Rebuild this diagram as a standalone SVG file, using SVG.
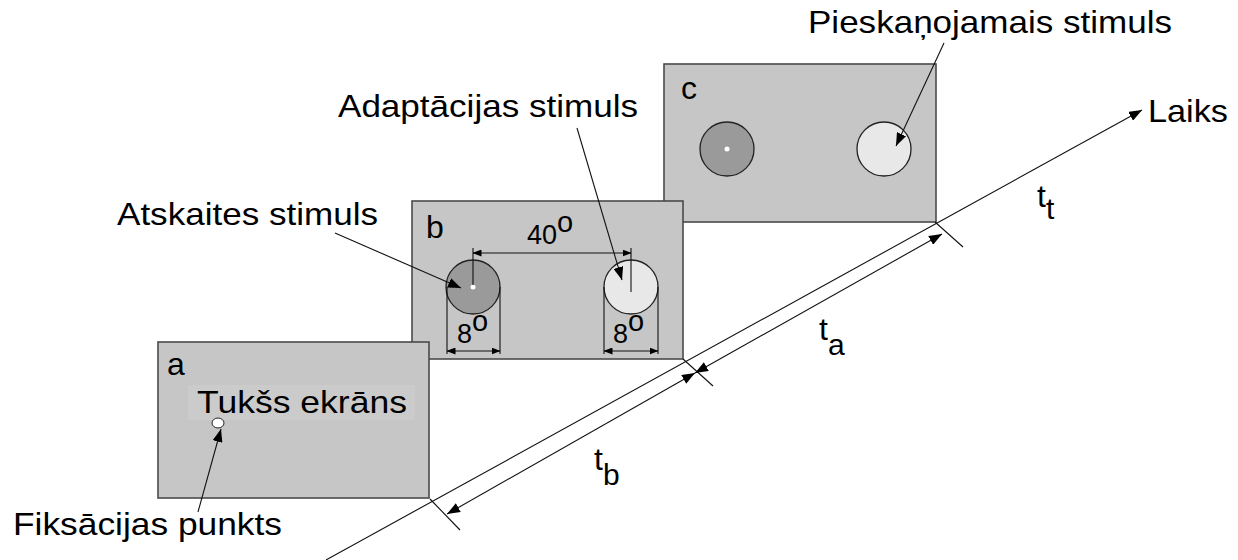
<svg xmlns="http://www.w3.org/2000/svg" width="1238" height="560" viewBox="0 0 1238 560">
<defs>
<marker id="ah" markerUnits="userSpaceOnUse" markerWidth="14" markerHeight="10" refX="13" refY="5" orient="auto-start-reverse"><path d="M0,0 L13,5 L0,10 Z" fill="#000"/></marker>
<marker id="ahs" markerUnits="userSpaceOnUse" markerWidth="9" markerHeight="7" refX="8.5" refY="3.5" orient="auto-start-reverse"><path d="M0,0 L9,3.5 L0,7 Z" fill="#000"/></marker>
<style>
.box{fill:#c6c6c6;stroke:#4a4a4a;stroke-width:1.6}
.t{font-family:"Liberation Sans",Arial,sans-serif;font-size:32px;fill:#000}
.s{font-family:"Liberation Sans",Arial,sans-serif;font-size:27px;fill:#000}
.ln{stroke:#111;stroke-width:1.1;fill:none}
.dark{fill:#9a9a9a;stroke:#222;stroke-width:1.3}
.light{fill:#e8e8e8;stroke:#222;stroke-width:1.3}
</style>
</defs>
<rect width="1238" height="560" fill="#fff"/>

<g id="box-c">
<rect class="box" x="664" y="64" width="272" height="158"/>
<text class="t" x="681" y="99">c</text>
<circle class="dark" cx="727" cy="149" r="27"/>
<circle cx="727" cy="149" r="2.5" fill="#fff"/>
<circle class="light" cx="884" cy="149" r="27"/>
</g>

<g id="box-b">
<rect class="box" x="412" y="201" width="271" height="158"/>
<text class="t" x="426" y="238">b</text>
<circle class="dark" cx="473" cy="287" r="27"/>
<circle cx="473" cy="287" r="2.5" fill="#fff"/>
<circle class="light" cx="631" cy="287" r="27"/>
<g class="ln">
<line x1="473" y1="248" x2="473" y2="285"/>
<line x1="631" y1="248" x2="631" y2="292"/>
<line x1="473" y1="253" x2="631" y2="253" marker-start="url(#ahs)" marker-end="url(#ahs)"/>
<line x1="447" y1="287" x2="447" y2="354"/>
<line x1="500" y1="287" x2="500" y2="354"/>
<line x1="604" y1="287" x2="604" y2="354"/>
<line x1="658" y1="287" x2="658" y2="354"/>
<line x1="447" y1="351" x2="500" y2="351" marker-start="url(#ahs)" marker-end="url(#ahs)"/>
<line x1="604" y1="351" x2="658" y2="351" marker-start="url(#ahs)" marker-end="url(#ahs)"/>
</g>
<text class="s" x="527" y="244">40<tspan dy="-12" font-size="29">o</tspan></text>
<text class="s" x="457" y="343">8<tspan dy="-12" font-size="29">o</tspan></text>
<text class="s" x="613" y="343">8<tspan dy="-12" font-size="29">o</tspan></text>
</g>

<g id="box-a">
<rect class="box" x="158" y="342" width="271" height="156"/>
<rect x="188" y="385" width="227" height="35" fill="#cbcbcb"/>
<text class="t" x="167" y="375">a</text>
<text class="t" x="197" y="413" textLength="210" lengthAdjust="spacingAndGlyphs">Tukšs ekrāns</text>
<ellipse cx="218" cy="423" rx="6" ry="5" fill="#fff" stroke="#222" stroke-width="1"/>
</g>

<g id="connectors">
<line class="ln" x1="326" y1="560" x2="1142" y2="110" marker-end="url(#ah)"/>
<line class="ln" x1="430" y1="499" x2="460" y2="530"/>
<line class="ln" x1="683" y1="359" x2="713" y2="386"/>
<line class="ln" x1="935" y1="222" x2="963" y2="247"/>
<line class="ln" x1="447" y1="514" x2="695" y2="373" marker-start="url(#ah)" marker-end="url(#ah)"/>
<line class="ln" x1="695" y1="373" x2="942" y2="234" marker-start="url(#ah)" marker-end="url(#ah)"/>
<line class="ln" x1="198" y1="512" x2="221" y2="429" marker-end="url(#ah)"/>
<line class="ln" x1="335" y1="233" x2="461" y2="288" marker-end="url(#ah)"/>
<line class="ln" x1="577" y1="128" x2="622" y2="280" marker-end="url(#ah)"/>
<line class="ln" x1="944" y1="43" x2="896" y2="146" marker-end="url(#ah)"/>
</g>

<g id="labels">
<text class="t" x="808" y="33" textLength="364" lengthAdjust="spacingAndGlyphs">Pieskaņojamais stimuls</text>
<text class="t" x="338" y="117" textLength="300" lengthAdjust="spacingAndGlyphs">Adaptācijas stimuls</text>
<text class="t" x="117" y="225" textLength="261" lengthAdjust="spacingAndGlyphs">Atskaites stimuls</text>
<text class="t" x="13" y="535" textLength="269" lengthAdjust="spacingAndGlyphs">Fiksācijas punkts</text>
<text class="t" x="1148" y="122" textLength="80" lengthAdjust="spacingAndGlyphs">Laiks</text>
<text class="t" x="1037" y="207">t<tspan font-size="30" dy="12">t</tspan></text>
<text class="t" x="819" y="340">t<tspan font-size="30" dy="15">a</tspan></text>
<text class="t" x="594" y="470">t<tspan font-size="30" dy="15">b</tspan></text>
</g>
</svg>
